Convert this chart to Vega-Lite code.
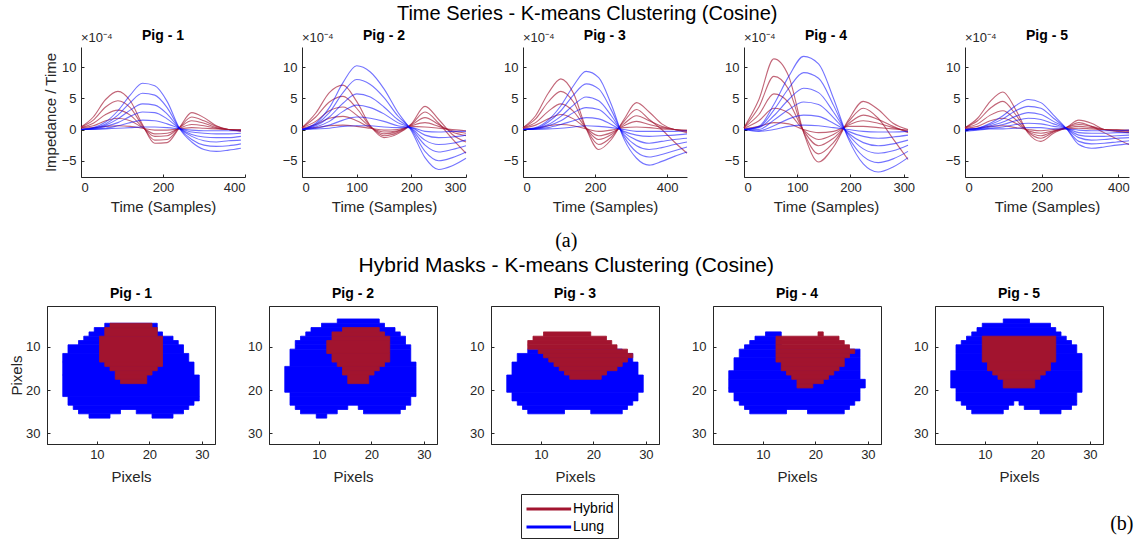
{
"$schema":"https://vega.github.io/schema/vega-lite/v6.json",
"background":"white",
"padding":{"left":9,"top":3,"right":4,"bottom":2},
"config":{
 "font":"Liberation Sans",
 "view":{"stroke":null},
 "axis":{"labelFont":"Liberation Sans","labelFontSize":13,"labelColor":"#262626","titleFont":"Liberation Sans","titleFontSize":15,"titleFontWeight":"normal","titleColor":"#262626","domainColor":"#262626","tickColor":"#262626","grid":false,"tickSize":-3},
 "axisX":{"labelPadding":7,"titlePadding":5},
 "axisY":{"labelPadding":10,"titlePadding":1},
 "title":{"font":"Liberation Sans","fontSize":14,"fontWeight":"bold","color":"#000","offset":5,"anchor":"middle","frame":"group"},
 "legend":{"labelFont":"Liberation Sans","labelFontSize":14,"labelColor":"#000","labelOffset":26,"strokeColor":"#262626","fillColor":"#fff","padding":4,"rowPadding":0,"symbolStrokeWidth":3}
},
"datasets":{
"ts":[
{"p":1,"k":"H1","t":0,"v":0.4},{"p":1,"k":"H1","t":30,"v":2.0},{"p":1,"k":"H1","t":60,"v":4.8},{"p":1,"k":"H1","t":90,"v":6.1},{"p":1,"k":"H1","t":120,"v":4.6},{"p":1,"k":"H1","t":150,"v":0.8},{"p":1,"k":"H1","t":180,"v":-2.2},{"p":1,"k":"H1","t":210,"v":-2.1},{"p":1,"k":"H1","t":240,"v":0.3},{"p":1,"k":"H1","t":270,"v":2.7},{"p":1,"k":"H1","t":300,"v":1.9},{"p":1,"k":"H1","t":330,"v":0.6},{"p":1,"k":"H1","t":360,"v":0.0},{"p":1,"k":"H1","t":390,"v":-0.1},
{"p":1,"k":"H2","t":0,"v":0.4},{"p":1,"k":"H2","t":30,"v":1.5},{"p":1,"k":"H2","t":60,"v":3.6},{"p":1,"k":"H2","t":90,"v":4.6},{"p":1,"k":"H2","t":120,"v":3.5},{"p":1,"k":"H2","t":150,"v":0.6},{"p":1,"k":"H2","t":180,"v":-1.7},{"p":1,"k":"H2","t":210,"v":-1.6},{"p":1,"k":"H2","t":240,"v":0.3},{"p":1,"k":"H2","t":270,"v":2.0},{"p":1,"k":"H2","t":300,"v":1.4},{"p":1,"k":"H2","t":330,"v":0.5},{"p":1,"k":"H2","t":360,"v":0.0},{"p":1,"k":"H2","t":390,"v":-0.3},
{"p":1,"k":"H3","t":0,"v":0.3},{"p":1,"k":"H3","t":30,"v":1.0},{"p":1,"k":"H3","t":60,"v":2.4},{"p":1,"k":"H3","t":90,"v":3.1},{"p":1,"k":"H3","t":120,"v":2.3},{"p":1,"k":"H3","t":150,"v":0.4},{"p":1,"k":"H3","t":180,"v":-1.1},{"p":1,"k":"H3","t":210,"v":-1.0},{"p":1,"k":"H3","t":240,"v":0.3},{"p":1,"k":"H3","t":270,"v":1.4},{"p":1,"k":"H3","t":300,"v":1.0},{"p":1,"k":"H3","t":330,"v":0.3},{"p":1,"k":"H3","t":360,"v":0.0},{"p":1,"k":"H3","t":390,"v":-0.2},
{"p":1,"k":"H4","t":0,"v":0.3},{"p":1,"k":"H4","t":30,"v":0.6},{"p":1,"k":"H4","t":60,"v":1.4},{"p":1,"k":"H4","t":90,"v":1.8},{"p":1,"k":"H4","t":120,"v":1.4},{"p":1,"k":"H4","t":150,"v":0.3},{"p":1,"k":"H4","t":180,"v":-0.7},{"p":1,"k":"H4","t":210,"v":-0.6},{"p":1,"k":"H4","t":240,"v":0.2},{"p":1,"k":"H4","t":270,"v":0.8},{"p":1,"k":"H4","t":300,"v":0.6},{"p":1,"k":"H4","t":330,"v":0.2},{"p":1,"k":"H4","t":360,"v":0.0},{"p":1,"k":"H4","t":390,"v":-0.1},
{"p":1,"k":"H5","t":0,"v":0.2},{"p":1,"k":"H5","t":30,"v":0.3},{"p":1,"k":"H5","t":60,"v":0.5},{"p":1,"k":"H5","t":90,"v":0.6},{"p":1,"k":"H5","t":120,"v":0.5},{"p":1,"k":"H5","t":150,"v":0.2},{"p":1,"k":"H5","t":180,"v":-0.1},{"p":1,"k":"H5","t":210,"v":-0.1},{"p":1,"k":"H5","t":240,"v":0.1},{"p":1,"k":"H5","t":270,"v":0.3},{"p":1,"k":"H5","t":300,"v":0.2},{"p":1,"k":"H5","t":330,"v":0.1},{"p":1,"k":"H5","t":360,"v":0.0},{"p":1,"k":"H5","t":390,"v":0.0},
{"p":1,"k":"L1","t":0,"v":0.0},{"p":1,"k":"L1","t":30,"v":0.3},{"p":1,"k":"L1","t":60,"v":1.2},{"p":1,"k":"L1","t":90,"v":3.0},{"p":1,"k":"L1","t":120,"v":5.5},{"p":1,"k":"L1","t":150,"v":7.4},{"p":1,"k":"L1","t":180,"v":7.0},{"p":1,"k":"L1","t":210,"v":4.5},{"p":1,"k":"L1","t":240,"v":0.2},{"p":1,"k":"L1","t":270,"v":-2.0},{"p":1,"k":"L1","t":300,"v":-3.2},{"p":1,"k":"L1","t":330,"v":-3.5},{"p":1,"k":"L1","t":360,"v":-3.3},{"p":1,"k":"L1","t":390,"v":-3.0},
{"p":1,"k":"L2","t":0,"v":0.0},{"p":1,"k":"L2","t":30,"v":0.2},{"p":1,"k":"L2","t":60,"v":0.9},{"p":1,"k":"L2","t":90,"v":2.3},{"p":1,"k":"L2","t":120,"v":4.3},{"p":1,"k":"L2","t":150,"v":5.8},{"p":1,"k":"L2","t":180,"v":5.5},{"p":1,"k":"L2","t":210,"v":3.5},{"p":1,"k":"L2","t":240,"v":0.2},{"p":1,"k":"L2","t":270,"v":-1.6},{"p":1,"k":"L2","t":300,"v":-2.5},{"p":1,"k":"L2","t":330,"v":-2.7},{"p":1,"k":"L2","t":360,"v":-2.6},{"p":1,"k":"L2","t":390,"v":-2.3},
{"p":1,"k":"L3","t":0,"v":0.0},{"p":1,"k":"L3","t":30,"v":0.2},{"p":1,"k":"L3","t":60,"v":0.7},{"p":1,"k":"L3","t":90,"v":1.7},{"p":1,"k":"L3","t":120,"v":3.1},{"p":1,"k":"L3","t":150,"v":4.1},{"p":1,"k":"L3","t":180,"v":3.9},{"p":1,"k":"L3","t":210,"v":2.5},{"p":1,"k":"L3","t":240,"v":0.2},{"p":1,"k":"L3","t":270,"v":-1.1},{"p":1,"k":"L3","t":300,"v":-1.8},{"p":1,"k":"L3","t":330,"v":-2.0},{"p":1,"k":"L3","t":360,"v":-1.8},{"p":1,"k":"L3","t":390,"v":-1.7},
{"p":1,"k":"L4","t":0,"v":0.0},{"p":1,"k":"L4","t":30,"v":0.1},{"p":1,"k":"L4","t":60,"v":0.5},{"p":1,"k":"L4","t":90,"v":1.1},{"p":1,"k":"L4","t":120,"v":2.1},{"p":1,"k":"L4","t":150,"v":2.8},{"p":1,"k":"L4","t":180,"v":2.7},{"p":1,"k":"L4","t":210,"v":1.7},{"p":1,"k":"L4","t":240,"v":0.2},{"p":1,"k":"L4","t":270,"v":-0.8},{"p":1,"k":"L4","t":300,"v":-1.2},{"p":1,"k":"L4","t":330,"v":-1.3},{"p":1,"k":"L4","t":360,"v":-1.3},{"p":1,"k":"L4","t":390,"v":-1.1},
{"p":1,"k":"L5","t":0,"v":0.0},{"p":1,"k":"L5","t":30,"v":0.1},{"p":1,"k":"L5","t":60,"v":0.2},{"p":1,"k":"L5","t":90,"v":0.6},{"p":1,"k":"L5","t":120,"v":1.1},{"p":1,"k":"L5","t":150,"v":1.5},{"p":1,"k":"L5","t":180,"v":1.4},{"p":1,"k":"L5","t":210,"v":0.9},{"p":1,"k":"L5","t":240,"v":0.2},{"p":1,"k":"L5","t":270,"v":-0.4},{"p":1,"k":"L5","t":300,"v":-0.6},{"p":1,"k":"L5","t":330,"v":-0.7},{"p":1,"k":"L5","t":360,"v":-0.7},{"p":1,"k":"L5","t":390,"v":-0.6},
{"p":1,"k":"L6","t":0,"v":0.0},{"p":1,"k":"L6","t":30,"v":0.0},{"p":1,"k":"L6","t":60,"v":0.1},{"p":1,"k":"L6","t":90,"v":0.2},{"p":1,"k":"L6","t":120,"v":0.3},{"p":1,"k":"L6","t":150,"v":0.4},{"p":1,"k":"L6","t":180,"v":0.4},{"p":1,"k":"L6","t":210,"v":0.3},{"p":1,"k":"L6","t":240,"v":0.1},{"p":1,"k":"L6","t":270,"v":-0.1},{"p":1,"k":"L6","t":300,"v":-0.2},{"p":1,"k":"L6","t":330,"v":-0.2},{"p":1,"k":"L6","t":360,"v":-0.2},{"p":1,"k":"L6","t":390,"v":-0.2},
{"p":2,"k":"H1","t":0,"v":0.3},{"p":2,"k":"H1","t":25,"v":2.6},{"p":2,"k":"H1","t":50,"v":5.9},{"p":2,"k":"H1","t":75,"v":7.1},{"p":2,"k":"H1","t":100,"v":4.5},{"p":2,"k":"H1","t":125,"v":0.6},{"p":2,"k":"H1","t":150,"v":-1.3},{"p":2,"k":"H1","t":175,"v":-0.7},{"p":2,"k":"H1","t":200,"v":0.9},{"p":2,"k":"H1","t":225,"v":3.7},{"p":2,"k":"H1","t":250,"v":1.6},{"p":2,"k":"H1","t":275,"v":-0.8},{"p":2,"k":"H1","t":300,"v":-2.0},
{"p":2,"k":"H2","t":0,"v":0.3},{"p":2,"k":"H2","t":25,"v":2.0},{"p":2,"k":"H2","t":50,"v":4.4},{"p":2,"k":"H2","t":75,"v":5.3},{"p":2,"k":"H2","t":100,"v":3.4},{"p":2,"k":"H2","t":125,"v":0.5},{"p":2,"k":"H2","t":150,"v":-1.0},{"p":2,"k":"H2","t":175,"v":-0.5},{"p":2,"k":"H2","t":200,"v":0.8},{"p":2,"k":"H2","t":225,"v":2.8},{"p":2,"k":"H2","t":250,"v":1.0},{"p":2,"k":"H2","t":275,"v":-1.5},{"p":2,"k":"H2","t":300,"v":-3.8},
{"p":2,"k":"H3","t":0,"v":0.3},{"p":2,"k":"H3","t":25,"v":1.3},{"p":2,"k":"H3","t":50,"v":3.0},{"p":2,"k":"H3","t":75,"v":3.6},{"p":2,"k":"H3","t":100,"v":2.3},{"p":2,"k":"H3","t":125,"v":0.4},{"p":2,"k":"H3","t":150,"v":-0.7},{"p":2,"k":"H3","t":175,"v":-0.3},{"p":2,"k":"H3","t":200,"v":0.7},{"p":2,"k":"H3","t":225,"v":1.9},{"p":2,"k":"H3","t":250,"v":0.8},{"p":2,"k":"H3","t":275,"v":-0.4},{"p":2,"k":"H3","t":300,"v":-1.0},
{"p":2,"k":"H4","t":0,"v":0.2},{"p":2,"k":"H4","t":25,"v":0.8},{"p":2,"k":"H4","t":50,"v":1.8},{"p":2,"k":"H4","t":75,"v":2.1},{"p":2,"k":"H4","t":100,"v":1.4},{"p":2,"k":"H4","t":125,"v":0.3},{"p":2,"k":"H4","t":150,"v":-0.4},{"p":2,"k":"H4","t":175,"v":-0.2},{"p":2,"k":"H4","t":200,"v":0.6},{"p":2,"k":"H4","t":225,"v":1.1},{"p":2,"k":"H4","t":250,"v":0.5},{"p":2,"k":"H4","t":275,"v":-0.2},{"p":2,"k":"H4","t":300,"v":-0.6},
{"p":2,"k":"H5","t":0,"v":0.1},{"p":2,"k":"H5","t":25,"v":0.3},{"p":2,"k":"H5","t":50,"v":0.6},{"p":2,"k":"H5","t":75,"v":0.7},{"p":2,"k":"H5","t":100,"v":0.5},{"p":2,"k":"H5","t":125,"v":0.2},{"p":2,"k":"H5","t":150,"v":-0.1},{"p":2,"k":"H5","t":175,"v":0.0},{"p":2,"k":"H5","t":200,"v":0.5},{"p":2,"k":"H5","t":225,"v":0.4},{"p":2,"k":"H5","t":250,"v":0.2},{"p":2,"k":"H5","t":275,"v":0.0},{"p":2,"k":"H5","t":300,"v":-0.2},
{"p":2,"k":"L1","t":0,"v":0.0},{"p":2,"k":"L1","t":25,"v":1.0},{"p":2,"k":"L1","t":50,"v":3.5},{"p":2,"k":"L1","t":75,"v":7.5},{"p":2,"k":"L1","t":100,"v":10.2},{"p":2,"k":"L1","t":125,"v":9.2},{"p":2,"k":"L1","t":150,"v":6.5},{"p":2,"k":"L1","t":175,"v":2.8},{"p":2,"k":"L1","t":200,"v":-0.2},{"p":2,"k":"L1","t":225,"v":-4.5},{"p":2,"k":"L1","t":250,"v":-6.4},{"p":2,"k":"L1","t":275,"v":-5.8},{"p":2,"k":"L1","t":300,"v":-4.6},
{"p":2,"k":"L2","t":0,"v":0.0},{"p":2,"k":"L2","t":25,"v":0.8},{"p":2,"k":"L2","t":50,"v":2.7},{"p":2,"k":"L2","t":75,"v":5.9},{"p":2,"k":"L2","t":100,"v":8.0},{"p":2,"k":"L2","t":125,"v":7.2},{"p":2,"k":"L2","t":150,"v":5.1},{"p":2,"k":"L2","t":175,"v":2.2},{"p":2,"k":"L2","t":200,"v":0.0},{"p":2,"k":"L2","t":225,"v":-3.5},{"p":2,"k":"L2","t":250,"v":-5.0},{"p":2,"k":"L2","t":275,"v":-4.5},{"p":2,"k":"L2","t":300,"v":-3.6},
{"p":2,"k":"L3","t":0,"v":0.0},{"p":2,"k":"L3","t":25,"v":0.6},{"p":2,"k":"L3","t":50,"v":2.0},{"p":2,"k":"L3","t":75,"v":4.2},{"p":2,"k":"L3","t":100,"v":5.7},{"p":2,"k":"L3","t":125,"v":5.2},{"p":2,"k":"L3","t":150,"v":3.6},{"p":2,"k":"L3","t":175,"v":1.6},{"p":2,"k":"L3","t":200,"v":0.1},{"p":2,"k":"L3","t":225,"v":-2.5},{"p":2,"k":"L3","t":250,"v":-3.6},{"p":2,"k":"L3","t":275,"v":-3.2},{"p":2,"k":"L3","t":300,"v":-2.6},
{"p":2,"k":"L4","t":0,"v":0.0},{"p":2,"k":"L4","t":25,"v":0.4},{"p":2,"k":"L4","t":50,"v":1.3},{"p":2,"k":"L4","t":75,"v":2.9},{"p":2,"k":"L4","t":100,"v":3.9},{"p":2,"k":"L4","t":125,"v":3.5},{"p":2,"k":"L4","t":150,"v":2.5},{"p":2,"k":"L4","t":175,"v":1.1},{"p":2,"k":"L4","t":200,"v":0.2},{"p":2,"k":"L4","t":225,"v":-1.7},{"p":2,"k":"L4","t":250,"v":-2.4},{"p":2,"k":"L4","t":275,"v":-2.2},{"p":2,"k":"L4","t":300,"v":-1.7},
{"p":2,"k":"L5","t":0,"v":0.0},{"p":2,"k":"L5","t":25,"v":0.2},{"p":2,"k":"L5","t":50,"v":0.7},{"p":2,"k":"L5","t":75,"v":1.5},{"p":2,"k":"L5","t":100,"v":2.0},{"p":2,"k":"L5","t":125,"v":1.8},{"p":2,"k":"L5","t":150,"v":1.3},{"p":2,"k":"L5","t":175,"v":0.6},{"p":2,"k":"L5","t":200,"v":0.3},{"p":2,"k":"L5","t":225,"v":-0.9},{"p":2,"k":"L5","t":250,"v":-1.3},{"p":2,"k":"L5","t":275,"v":-1.2},{"p":2,"k":"L5","t":300,"v":-0.9},
{"p":2,"k":"L6","t":0,"v":0.0},{"p":2,"k":"L6","t":25,"v":0.1},{"p":2,"k":"L6","t":50,"v":0.2},{"p":2,"k":"L6","t":75,"v":0.5},{"p":2,"k":"L6","t":100,"v":0.6},{"p":2,"k":"L6","t":125,"v":0.6},{"p":2,"k":"L6","t":150,"v":0.4},{"p":2,"k":"L6","t":175,"v":0.3},{"p":2,"k":"L6","t":200,"v":0.3},{"p":2,"k":"L6","t":225,"v":-0.3},{"p":2,"k":"L6","t":250,"v":-0.4},{"p":2,"k":"L6","t":275,"v":-0.3},{"p":2,"k":"L6","t":300,"v":-0.3},
{"p":3,"k":"H1","t":0,"v":0.3},{"p":3,"k":"H1","t":35,"v":2.2},{"p":3,"k":"H1","t":70,"v":5.8},{"p":3,"k":"H1","t":105,"v":8.1},{"p":3,"k":"H1","t":140,"v":5.8},{"p":3,"k":"H1","t":175,"v":0.2},{"p":3,"k":"H1","t":210,"v":-3.2},{"p":3,"k":"H1","t":245,"v":-1.6},{"p":3,"k":"H1","t":280,"v":1.6},{"p":3,"k":"H1","t":315,"v":4.3},{"p":3,"k":"H1","t":350,"v":2.8},{"p":3,"k":"H1","t":385,"v":0.9},{"p":3,"k":"H1","t":420,"v":0.0},{"p":3,"k":"H1","t":455,"v":-0.2},
{"p":3,"k":"H2","t":0,"v":0.3},{"p":3,"k":"H2","t":35,"v":1.7},{"p":3,"k":"H2","t":70,"v":4.4},{"p":3,"k":"H2","t":105,"v":6.1},{"p":3,"k":"H2","t":140,"v":4.4},{"p":3,"k":"H2","t":175,"v":0.2},{"p":3,"k":"H2","t":210,"v":-2.4},{"p":3,"k":"H2","t":245,"v":-1.2},{"p":3,"k":"H2","t":280,"v":1.3},{"p":3,"k":"H2","t":315,"v":3.2},{"p":3,"k":"H2","t":350,"v":1.6},{"p":3,"k":"H2","t":385,"v":0.0},{"p":3,"k":"H2","t":420,"v":-2.0},{"p":3,"k":"H2","t":455,"v":-3.8},
{"p":3,"k":"H3","t":0,"v":0.3},{"p":3,"k":"H3","t":35,"v":1.1},{"p":3,"k":"H3","t":70,"v":2.9},{"p":3,"k":"H3","t":105,"v":4.1},{"p":3,"k":"H3","t":140,"v":2.9},{"p":3,"k":"H3","t":175,"v":0.2},{"p":3,"k":"H3","t":210,"v":-1.6},{"p":3,"k":"H3","t":245,"v":-0.8},{"p":3,"k":"H3","t":280,"v":0.9},{"p":3,"k":"H3","t":315,"v":2.2},{"p":3,"k":"H3","t":350,"v":1.4},{"p":3,"k":"H3","t":385,"v":0.5},{"p":3,"k":"H3","t":420,"v":0.0},{"p":3,"k":"H3","t":455,"v":-0.5},
{"p":3,"k":"H4","t":0,"v":0.2},{"p":3,"k":"H4","t":35,"v":0.7},{"p":3,"k":"H4","t":70,"v":1.7},{"p":3,"k":"H4","t":105,"v":2.4},{"p":3,"k":"H4","t":140,"v":1.7},{"p":3,"k":"H4","t":175,"v":0.2},{"p":3,"k":"H4","t":210,"v":-1.0},{"p":3,"k":"H4","t":245,"v":-0.5},{"p":3,"k":"H4","t":280,"v":0.6},{"p":3,"k":"H4","t":315,"v":1.3},{"p":3,"k":"H4","t":350,"v":0.8},{"p":3,"k":"H4","t":385,"v":0.3},{"p":3,"k":"H4","t":420,"v":0.0},{"p":3,"k":"H4","t":455,"v":-0.3},
{"p":3,"k":"H5","t":0,"v":0.1},{"p":3,"k":"H5","t":35,"v":0.2},{"p":3,"k":"H5","t":70,"v":0.6},{"p":3,"k":"H5","t":105,"v":0.8},{"p":3,"k":"H5","t":140,"v":0.6},{"p":3,"k":"H5","t":175,"v":0.1},{"p":3,"k":"H5","t":210,"v":-0.3},{"p":3,"k":"H5","t":245,"v":-0.1},{"p":3,"k":"H5","t":280,"v":0.3},{"p":3,"k":"H5","t":315,"v":0.4},{"p":3,"k":"H5","t":350,"v":0.3},{"p":3,"k":"H5","t":385,"v":0.1},{"p":3,"k":"H5","t":420,"v":0.0},{"p":3,"k":"H5","t":455,"v":-0.1},
{"p":3,"k":"L1","t":0,"v":0.0},{"p":3,"k":"L1","t":35,"v":0.3},{"p":3,"k":"L1","t":70,"v":1.5},{"p":3,"k":"L1","t":105,"v":3.8},{"p":3,"k":"L1","t":140,"v":7.0},{"p":3,"k":"L1","t":175,"v":9.3},{"p":3,"k":"L1","t":210,"v":8.3},{"p":3,"k":"L1","t":245,"v":4.0},{"p":3,"k":"L1","t":280,"v":-1.5},{"p":3,"k":"L1","t":315,"v":-4.6},{"p":3,"k":"L1","t":350,"v":-5.7},{"p":3,"k":"L1","t":385,"v":-5.1},{"p":3,"k":"L1","t":420,"v":-4.3},{"p":3,"k":"L1","t":455,"v":-3.6},
{"p":3,"k":"L2","t":0,"v":0.0},{"p":3,"k":"L2","t":35,"v":0.2},{"p":3,"k":"L2","t":70,"v":1.2},{"p":3,"k":"L2","t":105,"v":3.0},{"p":3,"k":"L2","t":140,"v":5.5},{"p":3,"k":"L2","t":175,"v":7.3},{"p":3,"k":"L2","t":210,"v":6.5},{"p":3,"k":"L2","t":245,"v":3.1},{"p":3,"k":"L2","t":280,"v":-1.1},{"p":3,"k":"L2","t":315,"v":-3.6},{"p":3,"k":"L2","t":350,"v":-4.4},{"p":3,"k":"L2","t":385,"v":-4.0},{"p":3,"k":"L2","t":420,"v":-3.4},{"p":3,"k":"L2","t":455,"v":-2.8},
{"p":3,"k":"L3","t":0,"v":0.0},{"p":3,"k":"L3","t":35,"v":0.2},{"p":3,"k":"L3","t":70,"v":0.8},{"p":3,"k":"L3","t":105,"v":2.1},{"p":3,"k":"L3","t":140,"v":3.9},{"p":3,"k":"L3","t":175,"v":5.2},{"p":3,"k":"L3","t":210,"v":4.6},{"p":3,"k":"L3","t":245,"v":2.2},{"p":3,"k":"L3","t":280,"v":-0.8},{"p":3,"k":"L3","t":315,"v":-2.6},{"p":3,"k":"L3","t":350,"v":-3.2},{"p":3,"k":"L3","t":385,"v":-2.9},{"p":3,"k":"L3","t":420,"v":-2.4},{"p":3,"k":"L3","t":455,"v":-2.0},
{"p":3,"k":"L4","t":0,"v":0.0},{"p":3,"k":"L4","t":35,"v":0.1},{"p":3,"k":"L4","t":70,"v":0.6},{"p":3,"k":"L4","t":105,"v":1.4},{"p":3,"k":"L4","t":140,"v":2.7},{"p":3,"k":"L4","t":175,"v":3.5},{"p":3,"k":"L4","t":210,"v":3.2},{"p":3,"k":"L4","t":245,"v":1.5},{"p":3,"k":"L4","t":280,"v":-0.5},{"p":3,"k":"L4","t":315,"v":-1.7},{"p":3,"k":"L4","t":350,"v":-2.2},{"p":3,"k":"L4","t":385,"v":-1.9},{"p":3,"k":"L4","t":420,"v":-1.6},{"p":3,"k":"L4","t":455,"v":-1.4},
{"p":3,"k":"L5","t":0,"v":0.0},{"p":3,"k":"L5","t":35,"v":0.1},{"p":3,"k":"L5","t":70,"v":0.3},{"p":3,"k":"L5","t":105,"v":0.8},{"p":3,"k":"L5","t":140,"v":1.4},{"p":3,"k":"L5","t":175,"v":1.9},{"p":3,"k":"L5","t":210,"v":1.7},{"p":3,"k":"L5","t":245,"v":0.8},{"p":3,"k":"L5","t":280,"v":-0.3},{"p":3,"k":"L5","t":315,"v":-0.9},{"p":3,"k":"L5","t":350,"v":-1.1},{"p":3,"k":"L5","t":385,"v":-1.0},{"p":3,"k":"L5","t":420,"v":-0.9},{"p":3,"k":"L5","t":455,"v":-0.7},
{"p":3,"k":"L6","t":0,"v":0.0},{"p":3,"k":"L6","t":35,"v":0.0},{"p":3,"k":"L6","t":70,"v":0.1},{"p":3,"k":"L6","t":105,"v":0.2},{"p":3,"k":"L6","t":140,"v":0.4},{"p":3,"k":"L6","t":175,"v":0.6},{"p":3,"k":"L6","t":210,"v":0.5},{"p":3,"k":"L6","t":245,"v":0.3},{"p":3,"k":"L6","t":280,"v":0.0},{"p":3,"k":"L6","t":315,"v":-0.3},{"p":3,"k":"L6","t":350,"v":-0.3},{"p":3,"k":"L6","t":385,"v":-0.3},{"p":3,"k":"L6","t":420,"v":-0.3},{"p":3,"k":"L6","t":455,"v":-0.2},
{"p":4,"k":"H1","t":0,"v":0.3},{"p":4,"k":"H1","t":28,"v":4.8},{"p":4,"k":"H1","t":56,"v":11.3},{"p":4,"k":"H1","t":84,"v":8.5},{"p":4,"k":"H1","t":112,"v":-0.5},{"p":4,"k":"H1","t":140,"v":-5.2},{"p":4,"k":"H1","t":168,"v":-2.8},{"p":4,"k":"H1","t":196,"v":1.5},{"p":4,"k":"H1","t":224,"v":4.5},{"p":4,"k":"H1","t":252,"v":3.2},{"p":4,"k":"H1","t":280,"v":1.0},{"p":4,"k":"H1","t":308,"v":0.0},
{"p":4,"k":"H2","t":0,"v":0.3},{"p":4,"k":"H2","t":28,"v":3.6},{"p":4,"k":"H2","t":56,"v":8.5},{"p":4,"k":"H2","t":84,"v":6.4},{"p":4,"k":"H2","t":112,"v":-0.4},{"p":4,"k":"H2","t":140,"v":-3.9},{"p":4,"k":"H2","t":168,"v":-2.1},{"p":4,"k":"H2","t":196,"v":1.2},{"p":4,"k":"H2","t":224,"v":3.4},{"p":4,"k":"H2","t":252,"v":1.8},{"p":4,"k":"H2","t":280,"v":-1.5},{"p":4,"k":"H2","t":308,"v":-4.8},
{"p":4,"k":"H3","t":0,"v":0.3},{"p":4,"k":"H3","t":28,"v":2.4},{"p":4,"k":"H3","t":56,"v":5.7},{"p":4,"k":"H3","t":84,"v":4.3},{"p":4,"k":"H3","t":112,"v":-0.2},{"p":4,"k":"H3","t":140,"v":-2.6},{"p":4,"k":"H3","t":168,"v":-1.4},{"p":4,"k":"H3","t":196,"v":0.9},{"p":4,"k":"H3","t":224,"v":2.3},{"p":4,"k":"H3","t":252,"v":1.6},{"p":4,"k":"H3","t":280,"v":0.5},{"p":4,"k":"H3","t":308,"v":-0.5},
{"p":4,"k":"H4","t":0,"v":0.2},{"p":4,"k":"H4","t":28,"v":1.4},{"p":4,"k":"H4","t":56,"v":3.4},{"p":4,"k":"H4","t":84,"v":2.6},{"p":4,"k":"H4","t":112,"v":-0.1},{"p":4,"k":"H4","t":140,"v":-1.6},{"p":4,"k":"H4","t":168,"v":-0.8},{"p":4,"k":"H4","t":196,"v":0.7},{"p":4,"k":"H4","t":224,"v":1.4},{"p":4,"k":"H4","t":252,"v":1.0},{"p":4,"k":"H4","t":280,"v":0.3},{"p":4,"k":"H4","t":308,"v":-0.3},
{"p":4,"k":"H5","t":0,"v":0.1},{"p":4,"k":"H5","t":28,"v":0.5},{"p":4,"k":"H5","t":56,"v":1.1},{"p":4,"k":"H5","t":84,"v":0.9},{"p":4,"k":"H5","t":112,"v":0.0},{"p":4,"k":"H5","t":140,"v":-0.5},{"p":4,"k":"H5","t":168,"v":-0.3},{"p":4,"k":"H5","t":196,"v":0.5},{"p":4,"k":"H5","t":224,"v":0.5},{"p":4,"k":"H5","t":252,"v":0.3},{"p":4,"k":"H5","t":280,"v":0.1},{"p":4,"k":"H5","t":308,"v":-0.1},
{"p":4,"k":"L1","t":0,"v":0.0},{"p":4,"k":"L1","t":28,"v":0.5},{"p":4,"k":"L1","t":56,"v":4.0},{"p":4,"k":"L1","t":84,"v":8.5},{"p":4,"k":"L1","t":112,"v":11.7},{"p":4,"k":"L1","t":140,"v":10.5},{"p":4,"k":"L1","t":168,"v":5.0},{"p":4,"k":"L1","t":196,"v":-1.5},{"p":4,"k":"L1","t":224,"v":-5.5},{"p":4,"k":"L1","t":252,"v":-6.8},{"p":4,"k":"L1","t":280,"v":-6.0},{"p":4,"k":"L1","t":308,"v":-4.5},
{"p":4,"k":"L2","t":0,"v":0.0},{"p":4,"k":"L2","t":28,"v":0.4},{"p":4,"k":"L2","t":56,"v":3.1},{"p":4,"k":"L2","t":84,"v":6.6},{"p":4,"k":"L2","t":112,"v":9.1},{"p":4,"k":"L2","t":140,"v":8.2},{"p":4,"k":"L2","t":168,"v":3.9},{"p":4,"k":"L2","t":196,"v":-1.2},{"p":4,"k":"L2","t":224,"v":-4.3},{"p":4,"k":"L2","t":252,"v":-5.3},{"p":4,"k":"L2","t":280,"v":-4.7},{"p":4,"k":"L2","t":308,"v":-3.5},
{"p":4,"k":"L3","t":0,"v":0.0},{"p":4,"k":"L3","t":28,"v":0.3},{"p":4,"k":"L3","t":56,"v":2.2},{"p":4,"k":"L3","t":84,"v":4.8},{"p":4,"k":"L3","t":112,"v":6.6},{"p":4,"k":"L3","t":140,"v":5.9},{"p":4,"k":"L3","t":168,"v":2.8},{"p":4,"k":"L3","t":196,"v":-0.8},{"p":4,"k":"L3","t":224,"v":-3.1},{"p":4,"k":"L3","t":252,"v":-3.8},{"p":4,"k":"L3","t":280,"v":-3.4},{"p":4,"k":"L3","t":308,"v":-2.5},
{"p":4,"k":"L4","t":0,"v":0.0},{"p":4,"k":"L4","t":28,"v":0.0},{"p":4,"k":"L4","t":56,"v":1.5},{"p":4,"k":"L4","t":84,"v":3.2},{"p":4,"k":"L4","t":112,"v":4.4},{"p":4,"k":"L4","t":140,"v":4.0},{"p":4,"k":"L4","t":168,"v":1.9},{"p":4,"k":"L4","t":196,"v":-0.6},{"p":4,"k":"L4","t":224,"v":-2.1},{"p":4,"k":"L4","t":252,"v":-2.6},{"p":4,"k":"L4","t":280,"v":-2.3},{"p":4,"k":"L4","t":308,"v":-1.7},
{"p":4,"k":"L5","t":0,"v":0.0},{"p":4,"k":"L5","t":28,"v":-0.2},{"p":4,"k":"L5","t":56,"v":0.6},{"p":4,"k":"L5","t":84,"v":1.7},{"p":4,"k":"L5","t":112,"v":2.3},{"p":4,"k":"L5","t":140,"v":2.1},{"p":4,"k":"L5","t":168,"v":1.0},{"p":4,"k":"L5","t":196,"v":-0.3},{"p":4,"k":"L5","t":224,"v":-1.1},{"p":4,"k":"L5","t":252,"v":-1.4},{"p":4,"k":"L5","t":280,"v":-1.2},{"p":4,"k":"L5","t":308,"v":-0.9},
{"p":4,"k":"L6","t":0,"v":0.0},{"p":4,"k":"L6","t":28,"v":-0.3},{"p":4,"k":"L6","t":56,"v":0.0},{"p":4,"k":"L6","t":84,"v":0.5},{"p":4,"k":"L6","t":112,"v":0.7},{"p":4,"k":"L6","t":140,"v":0.6},{"p":4,"k":"L6","t":168,"v":0.3},{"p":4,"k":"L6","t":196,"v":0.0},{"p":4,"k":"L6","t":224,"v":-0.3},{"p":4,"k":"L6","t":252,"v":-0.4},{"p":4,"k":"L6","t":280,"v":-0.4},{"p":4,"k":"L6","t":308,"v":-0.3},
{"p":5,"k":"H1","t":0,"v":0.3},{"p":5,"k":"H1","t":33,"v":1.8},{"p":5,"k":"H1","t":66,"v":4.5},{"p":5,"k":"H1","t":99,"v":6.0},{"p":5,"k":"H1","t":132,"v":3.2},{"p":5,"k":"H1","t":165,"v":-0.6},{"p":5,"k":"H1","t":198,"v":-1.9},{"p":5,"k":"H1","t":231,"v":-0.6},{"p":5,"k":"H1","t":264,"v":0.3},{"p":5,"k":"H1","t":297,"v":1.5},{"p":5,"k":"H1","t":330,"v":1.0},{"p":5,"k":"H1","t":363,"v":0.0},{"p":5,"k":"H1","t":396,"v":-0.3},{"p":5,"k":"H1","t":428,"v":-0.5},
{"p":5,"k":"H2","t":0,"v":0.3},{"p":5,"k":"H2","t":33,"v":1.4},{"p":5,"k":"H2","t":66,"v":3.4},{"p":5,"k":"H2","t":99,"v":4.5},{"p":5,"k":"H2","t":132,"v":2.4},{"p":5,"k":"H2","t":165,"v":-0.4},{"p":5,"k":"H2","t":198,"v":-1.4},{"p":5,"k":"H2","t":231,"v":-0.4},{"p":5,"k":"H2","t":264,"v":0.3},{"p":5,"k":"H2","t":297,"v":1.1},{"p":5,"k":"H2","t":330,"v":0.5},{"p":5,"k":"H2","t":363,"v":-0.5},{"p":5,"k":"H2","t":396,"v":-1.5},{"p":5,"k":"H2","t":428,"v":-2.4},
{"p":5,"k":"H3","t":0,"v":0.3},{"p":5,"k":"H3","t":33,"v":0.9},{"p":5,"k":"H3","t":66,"v":2.3},{"p":5,"k":"H3","t":99,"v":3.0},{"p":5,"k":"H3","t":132,"v":1.6},{"p":5,"k":"H3","t":165,"v":-0.3},{"p":5,"k":"H3","t":198,"v":-1.0},{"p":5,"k":"H3","t":231,"v":-0.3},{"p":5,"k":"H3","t":264,"v":0.3},{"p":5,"k":"H3","t":297,"v":0.8},{"p":5,"k":"H3","t":330,"v":0.5},{"p":5,"k":"H3","t":363,"v":0.0},{"p":5,"k":"H3","t":396,"v":-0.2},{"p":5,"k":"H3","t":428,"v":-0.3},
{"p":5,"k":"H4","t":0,"v":0.2},{"p":5,"k":"H4","t":33,"v":0.5},{"p":5,"k":"H4","t":66,"v":1.4},{"p":5,"k":"H4","t":99,"v":1.8},{"p":5,"k":"H4","t":132,"v":1.0},{"p":5,"k":"H4","t":165,"v":-0.2},{"p":5,"k":"H4","t":198,"v":-0.6},{"p":5,"k":"H4","t":231,"v":-0.2},{"p":5,"k":"H4","t":264,"v":0.2},{"p":5,"k":"H4","t":297,"v":0.5},{"p":5,"k":"H4","t":330,"v":0.3},{"p":5,"k":"H4","t":363,"v":0.0},{"p":5,"k":"H4","t":396,"v":-0.1},{"p":5,"k":"H4","t":428,"v":-0.2},
{"p":5,"k":"H5","t":0,"v":0.1},{"p":5,"k":"H5","t":33,"v":0.2},{"p":5,"k":"H5","t":66,"v":0.5},{"p":5,"k":"H5","t":99,"v":0.6},{"p":5,"k":"H5","t":132,"v":0.3},{"p":5,"k":"H5","t":165,"v":0.0},{"p":5,"k":"H5","t":198,"v":-0.2},{"p":5,"k":"H5","t":231,"v":0.0},{"p":5,"k":"H5","t":264,"v":0.1},{"p":5,"k":"H5","t":297,"v":0.2},{"p":5,"k":"H5","t":330,"v":0.1},{"p":5,"k":"H5","t":363,"v":0.0},{"p":5,"k":"H5","t":396,"v":0.0},{"p":5,"k":"H5","t":428,"v":-0.1},
{"p":5,"k":"L1","t":0,"v":0.0},{"p":5,"k":"L1","t":33,"v":0.2},{"p":5,"k":"L1","t":66,"v":1.0},{"p":5,"k":"L1","t":99,"v":2.2},{"p":5,"k":"L1","t":132,"v":3.8},{"p":5,"k":"L1","t":165,"v":4.8},{"p":5,"k":"L1","t":198,"v":4.3},{"p":5,"k":"L1","t":231,"v":2.3},{"p":5,"k":"L1","t":264,"v":0.2},{"p":5,"k":"L1","t":297,"v":-2.4},{"p":5,"k":"L1","t":330,"v":-3.0},{"p":5,"k":"L1","t":363,"v":-2.8},{"p":5,"k":"L1","t":396,"v":-2.5},{"p":5,"k":"L1","t":428,"v":-2.3},
{"p":5,"k":"L2","t":0,"v":0.0},{"p":5,"k":"L2","t":33,"v":0.2},{"p":5,"k":"L2","t":66,"v":0.8},{"p":5,"k":"L2","t":99,"v":1.7},{"p":5,"k":"L2","t":132,"v":3.0},{"p":5,"k":"L2","t":165,"v":3.7},{"p":5,"k":"L2","t":198,"v":3.4},{"p":5,"k":"L2","t":231,"v":1.8},{"p":5,"k":"L2","t":264,"v":0.2},{"p":5,"k":"L2","t":297,"v":-1.9},{"p":5,"k":"L2","t":330,"v":-2.3},{"p":5,"k":"L2","t":363,"v":-2.2},{"p":5,"k":"L2","t":396,"v":-2.0},{"p":5,"k":"L2","t":428,"v":-1.8},
{"p":5,"k":"L3","t":0,"v":0.0},{"p":5,"k":"L3","t":33,"v":0.1},{"p":5,"k":"L3","t":66,"v":0.6},{"p":5,"k":"L3","t":99,"v":1.2},{"p":5,"k":"L3","t":132,"v":2.1},{"p":5,"k":"L3","t":165,"v":2.7},{"p":5,"k":"L3","t":198,"v":2.4},{"p":5,"k":"L3","t":231,"v":1.3},{"p":5,"k":"L3","t":264,"v":0.2},{"p":5,"k":"L3","t":297,"v":-1.3},{"p":5,"k":"L3","t":330,"v":-1.7},{"p":5,"k":"L3","t":363,"v":-1.6},{"p":5,"k":"L3","t":396,"v":-1.4},{"p":5,"k":"L3","t":428,"v":-1.3},
{"p":5,"k":"L4","t":0,"v":0.0},{"p":5,"k":"L4","t":33,"v":0.1},{"p":5,"k":"L4","t":66,"v":0.4},{"p":5,"k":"L4","t":99,"v":0.8},{"p":5,"k":"L4","t":132,"v":1.4},{"p":5,"k":"L4","t":165,"v":1.8},{"p":5,"k":"L4","t":198,"v":1.6},{"p":5,"k":"L4","t":231,"v":0.9},{"p":5,"k":"L4","t":264,"v":0.2},{"p":5,"k":"L4","t":297,"v":-0.9},{"p":5,"k":"L4","t":330,"v":-1.1},{"p":5,"k":"L4","t":363,"v":-1.1},{"p":5,"k":"L4","t":396,"v":-1.0},{"p":5,"k":"L4","t":428,"v":-0.9},
{"p":5,"k":"L5","t":0,"v":-0.2},{"p":5,"k":"L5","t":33,"v":0.0},{"p":5,"k":"L5","t":66,"v":0.2},{"p":5,"k":"L5","t":99,"v":0.4},{"p":5,"k":"L5","t":132,"v":0.8},{"p":5,"k":"L5","t":165,"v":1.0},{"p":5,"k":"L5","t":198,"v":0.9},{"p":5,"k":"L5","t":231,"v":0.5},{"p":5,"k":"L5","t":264,"v":0.2},{"p":5,"k":"L5","t":297,"v":-0.5},{"p":5,"k":"L5","t":330,"v":-0.6},{"p":5,"k":"L5","t":363,"v":-0.6},{"p":5,"k":"L5","t":396,"v":-0.5},{"p":5,"k":"L5","t":428,"v":-0.5},
{"p":5,"k":"L6","t":0,"v":-0.3},{"p":5,"k":"L6","t":33,"v":-0.1},{"p":5,"k":"L6","t":66,"v":0.1},{"p":5,"k":"L6","t":99,"v":0.1},{"p":5,"k":"L6","t":132,"v":0.2},{"p":5,"k":"L6","t":165,"v":0.3},{"p":5,"k":"L6","t":198,"v":0.3},{"p":5,"k":"L6","t":231,"v":0.1},{"p":5,"k":"L6","t":264,"v":0.1},{"p":5,"k":"L6","t":297,"v":-0.1},{"p":5,"k":"L6","t":330,"v":-0.2},{"p":5,"k":"L6","t":363,"v":-0.2},{"p":5,"k":"L6","t":396,"v":-0.2},{"p":5,"k":"L6","t":428,"v":-0.1}
],
"mask":[
{"p":1,"c":"Lung","x0":11.5,"x1":21.5,"y0":4.5,"y1":5.5},{"p":1,"c":"Lung","x0":9.5,"x1":21.5,"y0":5.5,"y1":6.5},{"p":1,"c":"Lung","x0":8.5,"x1":22.5,"y0":6.5,"y1":7.5},{"p":1,"c":"Lung","x0":7.5,"x1":24.5,"y0":7.5,"y1":8.5},{"p":1,"c":"Lung","x0":6.5,"x1":25.5,"y0":8.5,"y1":9.5},{"p":1,"c":"Lung","x0":4.5,"x1":26.5,"y0":9.5,"y1":11.5},{"p":1,"c":"Lung","x0":3.5,"x1":27.5,"y0":11.5,"y1":13.5},{"p":1,"c":"Lung","x0":3.5,"x1":28.5,"y0":13.5,"y1":16.5},{"p":1,"c":"Lung","x0":3.5,"x1":29.5,"y0":16.5,"y1":21.5},{"p":1,"c":"Lung","x0":4.5,"x1":29.5,"y0":21.5,"y1":22.5},{"p":1,"c":"Lung","x0":4.5,"x1":28.5,"y0":22.5,"y1":23.5},{"p":1,"c":"Lung","x0":5.5,"x1":27.5,"y0":23.5,"y1":24.5},{"p":1,"c":"Lung","x0":6.5,"x1":14.5,"y0":24.5,"y1":25.5},{"p":1,"c":"Lung","x0":17.5,"x1":26.5,"y0":24.5,"y1":25.5},{"p":1,"c":"Lung","x0":8.5,"x1":12.5,"y0":25.5,"y1":26.5},{"p":1,"c":"Lung","x0":20.5,"x1":24.5,"y0":25.5,"y1":26.5},
{"p":1,"c":"Hybrid","x0":12.5,"x1":20.5,"y0":4.5,"y1":5.5},{"p":1,"c":"Hybrid","x0":11.5,"x1":21.5,"y0":5.5,"y1":7.5},{"p":1,"c":"Hybrid","x0":10.5,"x1":22.5,"y0":7.5,"y1":13.5},{"p":1,"c":"Hybrid","x0":11.5,"x1":22.5,"y0":13.5,"y1":14.5},{"p":1,"c":"Hybrid","x0":12.5,"x1":21.5,"y0":14.5,"y1":15.5},{"p":1,"c":"Hybrid","x0":13.5,"x1":20.5,"y0":15.5,"y1":16.5},{"p":1,"c":"Hybrid","x0":13.5,"x1":19.5,"y0":16.5,"y1":17.5},{"p":1,"c":"Hybrid","x0":14.5,"x1":19.5,"y0":17.5,"y1":18.5},
{"p":2,"c":"Lung","x0":13.5,"x1":21.5,"y0":3.5,"y1":4.5},{"p":2,"c":"Lung","x0":10.5,"x1":22.5,"y0":4.5,"y1":5.5},{"p":2,"c":"Lung","x0":8.5,"x1":24.5,"y0":5.5,"y1":6.5},{"p":2,"c":"Lung","x0":7.5,"x1":25.5,"y0":6.5,"y1":7.5},{"p":2,"c":"Lung","x0":6.5,"x1":26.5,"y0":7.5,"y1":8.5},{"p":2,"c":"Lung","x0":5.5,"x1":26.5,"y0":8.5,"y1":9.5},{"p":2,"c":"Lung","x0":5.5,"x1":27.5,"y0":9.5,"y1":10.5},{"p":2,"c":"Lung","x0":4.5,"x1":27.5,"y0":10.5,"y1":13.5},{"p":2,"c":"Lung","x0":4.5,"x1":28.5,"y0":13.5,"y1":14.5},{"p":2,"c":"Lung","x0":3.5,"x1":28.5,"y0":14.5,"y1":20.5},{"p":2,"c":"Lung","x0":4.5,"x1":28.5,"y0":20.5,"y1":21.5},{"p":2,"c":"Lung","x0":4.5,"x1":27.5,"y0":21.5,"y1":23.5},{"p":2,"c":"Lung","x0":5.5,"x1":15.5,"y0":23.5,"y1":24.5},{"p":2,"c":"Lung","x0":17.5,"x1":26.5,"y0":23.5,"y1":24.5},{"p":2,"c":"Lung","x0":6.5,"x1":13.5,"y0":24.5,"y1":25.5},{"p":2,"c":"Lung","x0":18.5,"x1":25.5,"y0":24.5,"y1":25.5},{"p":2,"c":"Lung","x0":9.5,"x1":11.5,"y0":25.5,"y1":26.5},
{"p":2,"c":"Hybrid","x0":14.5,"x1":21.5,"y0":5.5,"y1":6.5},{"p":2,"c":"Hybrid","x0":12.5,"x1":22.5,"y0":6.5,"y1":7.5},{"p":2,"c":"Hybrid","x0":12.5,"x1":23.5,"y0":7.5,"y1":8.5},{"p":2,"c":"Hybrid","x0":11.5,"x1":23.5,"y0":8.5,"y1":11.5},{"p":2,"c":"Hybrid","x0":12.5,"x1":23.5,"y0":11.5,"y1":13.5},{"p":2,"c":"Hybrid","x0":13.5,"x1":22.5,"y0":13.5,"y1":14.5},{"p":2,"c":"Hybrid","x0":14.5,"x1":21.5,"y0":14.5,"y1":15.5},{"p":2,"c":"Hybrid","x0":14.5,"x1":20.5,"y0":15.5,"y1":16.5},{"p":2,"c":"Hybrid","x0":15.5,"x1":19.5,"y0":16.5,"y1":18.5},
{"p":3,"c":"Lung","x0":7.5,"x1":25.5,"y0":10.5,"y1":11.5},{"p":3,"c":"Lung","x0":5.5,"x1":27.5,"y0":11.5,"y1":13.5},{"p":3,"c":"Lung","x0":4.5,"x1":28.5,"y0":13.5,"y1":16.5},{"p":3,"c":"Lung","x0":3.5,"x1":29.5,"y0":16.5,"y1":20.5},{"p":3,"c":"Lung","x0":4.5,"x1":28.5,"y0":20.5,"y1":22.5},{"p":3,"c":"Lung","x0":5.5,"x1":27.5,"y0":22.5,"y1":23.5},{"p":3,"c":"Lung","x0":6.5,"x1":26.5,"y0":23.5,"y1":24.5},{"p":3,"c":"Lung","x0":7.5,"x1":14.5,"y0":24.5,"y1":25.5},{"p":3,"c":"Lung","x0":19.5,"x1":25.5,"y0":24.5,"y1":25.5},
{"p":3,"c":"Hybrid","x0":10.5,"x1":19.5,"y0":6.5,"y1":7.5},{"p":3,"c":"Hybrid","x0":8.5,"x1":22.5,"y0":7.5,"y1":8.5},{"p":3,"c":"Hybrid","x0":7.5,"x1":23.5,"y0":8.5,"y1":9.5},{"p":3,"c":"Hybrid","x0":7.5,"x1":24.5,"y0":9.5,"y1":10.5},{"p":3,"c":"Hybrid","x0":9.5,"x1":26.5,"y0":10.5,"y1":11.5},{"p":3,"c":"Hybrid","x0":10.5,"x1":27.5,"y0":11.5,"y1":12.5},{"p":3,"c":"Hybrid","x0":11.5,"x1":26.5,"y0":12.5,"y1":13.5},{"p":3,"c":"Hybrid","x0":12.5,"x1":25.5,"y0":13.5,"y1":14.5},{"p":3,"c":"Hybrid","x0":13.5,"x1":24.5,"y0":14.5,"y1":15.5},{"p":3,"c":"Hybrid","x0":14.5,"x1":22.5,"y0":15.5,"y1":16.5},{"p":3,"c":"Hybrid","x0":15.5,"x1":21.5,"y0":16.5,"y1":17.5},
{"p":4,"c":"Lung","x0":10.5,"x1":13.5,"y0":6.5,"y1":7.5},{"p":4,"c":"Lung","x0":8.5,"x1":13.5,"y0":7.5,"y1":8.5},{"p":4,"c":"Lung","x0":7.5,"x1":13.5,"y0":8.5,"y1":9.5},{"p":4,"c":"Lung","x0":6.5,"x1":13.5,"y0":9.5,"y1":10.5},{"p":4,"c":"Lung","x0":5.5,"x1":28.5,"y0":10.5,"y1":12.5},{"p":4,"c":"Lung","x0":4.5,"x1":28.5,"y0":12.5,"y1":15.5},{"p":4,"c":"Lung","x0":3.5,"x1":28.5,"y0":15.5,"y1":17.5},{"p":4,"c":"Lung","x0":3.5,"x1":29.5,"y0":17.5,"y1":19.5},{"p":4,"c":"Lung","x0":3.5,"x1":28.5,"y0":19.5,"y1":20.5},{"p":4,"c":"Lung","x0":4.5,"x1":28.5,"y0":20.5,"y1":22.5},{"p":4,"c":"Lung","x0":5.5,"x1":27.5,"y0":22.5,"y1":23.5},{"p":4,"c":"Lung","x0":6.5,"x1":26.5,"y0":23.5,"y1":24.5},{"p":4,"c":"Lung","x0":7.5,"x1":14.5,"y0":24.5,"y1":25.5},{"p":4,"c":"Lung","x0":18.5,"x1":25.5,"y0":24.5,"y1":25.5},
{"p":4,"c":"Hybrid","x0":20.5,"x1":21.5,"y0":6.5,"y1":7.5},{"p":4,"c":"Hybrid","x0":12.5,"x1":24.5,"y0":7.5,"y1":8.5},{"p":4,"c":"Hybrid","x0":12.5,"x1":25.5,"y0":8.5,"y1":9.5},{"p":4,"c":"Hybrid","x0":12.5,"x1":26.5,"y0":9.5,"y1":10.5},{"p":4,"c":"Hybrid","x0":12.5,"x1":27.5,"y0":10.5,"y1":11.5},{"p":4,"c":"Hybrid","x0":12.5,"x1":26.5,"y0":11.5,"y1":12.5},{"p":4,"c":"Hybrid","x0":12.5,"x1":25.5,"y0":12.5,"y1":13.5},{"p":4,"c":"Hybrid","x0":13.5,"x1":25.5,"y0":13.5,"y1":14.5},{"p":4,"c":"Hybrid","x0":13.5,"x1":24.5,"y0":14.5,"y1":15.5},{"p":4,"c":"Hybrid","x0":14.5,"x1":23.5,"y0":15.5,"y1":16.5},{"p":4,"c":"Hybrid","x0":15.5,"x1":22.5,"y0":16.5,"y1":17.5},{"p":4,"c":"Hybrid","x0":16.5,"x1":21.5,"y0":17.5,"y1":18.5},{"p":4,"c":"Hybrid","x0":16.5,"x1":19.5,"y0":18.5,"y1":19.5},
{"p":5,"c":"Lung","x0":13.5,"x1":18.5,"y0":3.5,"y1":4.5},{"p":5,"c":"Lung","x0":9.5,"x1":22.5,"y0":4.5,"y1":5.5},{"p":5,"c":"Lung","x0":8.5,"x1":23.5,"y0":5.5,"y1":6.5},{"p":5,"c":"Lung","x0":7.5,"x1":24.5,"y0":6.5,"y1":7.5},{"p":5,"c":"Lung","x0":6.5,"x1":25.5,"y0":7.5,"y1":8.5},{"p":5,"c":"Lung","x0":5.5,"x1":26.5,"y0":8.5,"y1":9.5},{"p":5,"c":"Lung","x0":4.5,"x1":27.5,"y0":9.5,"y1":11.5},{"p":5,"c":"Lung","x0":4.5,"x1":28.5,"y0":11.5,"y1":15.5},{"p":5,"c":"Lung","x0":3.5,"x1":28.5,"y0":15.5,"y1":19.5},{"p":5,"c":"Lung","x0":4.5,"x1":28.5,"y0":19.5,"y1":20.5},{"p":5,"c":"Lung","x0":4.5,"x1":27.5,"y0":20.5,"y1":22.5},{"p":5,"c":"Lung","x0":5.5,"x1":15.5,"y0":22.5,"y1":23.5},{"p":5,"c":"Lung","x0":16.5,"x1":27.5,"y0":22.5,"y1":23.5},{"p":5,"c":"Lung","x0":6.5,"x1":14.5,"y0":23.5,"y1":24.5},{"p":5,"c":"Lung","x0":17.5,"x1":26.5,"y0":23.5,"y1":24.5},{"p":5,"c":"Lung","x0":7.5,"x1":13.5,"y0":24.5,"y1":25.5},{"p":5,"c":"Lung","x0":20.5,"x1":24.5,"y0":24.5,"y1":25.5},
{"p":5,"c":"Hybrid","x0":9.5,"x1":23.5,"y0":7.5,"y1":13.5},{"p":5,"c":"Hybrid","x0":10.5,"x1":22.5,"y0":13.5,"y1":15.5},{"p":5,"c":"Hybrid","x0":11.5,"x1":21.5,"y0":15.5,"y1":16.5},{"p":5,"c":"Hybrid","x0":12.5,"x1":20.5,"y0":16.5,"y1":17.5},{"p":5,"c":"Hybrid","x0":13.5,"x1":19.5,"y0":17.5,"y1":19.5}
]
},
"concat":[
{
 "title":{"text":"Time Series - K-means Clustering (Cosine)","anchor":"middle","frame":"bounds","fontSize":20,"fontWeight":"normal","font":"Liberation Sans","color":"#000","offset":5},
 "bounds":"flush","spacing":33,
 "hconcat":[
  {"width":1,"height":130,"data":{"values":[{"a":0}]},"mark":{"type":"point","opacity":0},"encoding":{}},
  {"bounds":"flush","spacing":57,
   "hconcat":[
  {"width":164,"height":130,"data":{"name":"ts"},
   "encoding":{"x":{"field":"t","type":"quantitative","scale":{"domain":[0,400],"nice":false,"zero":false},"axis":{"values":[0,200,400],"title":"Time (Samples)"}},
    "y":{"field":"v","type":"quantitative","scale":{"domain":[-7.6,13.2],"nice":false,"zero":false},"axis":{"values":[-5,0,5,10],"title":"Impedance / Time","labelPadding":8,"titlePadding":3}}},
   "layer":[
    {"transform":[{"filter":"datum.p==1 && datum.k[0]=='H'"}],"mark":{"type":"line","color":"#A2142F","strokeWidth":1.1,"strokeOpacity":0.65,"interpolate":"monotone"},"encoding":{"detail":{"field":"k"}}},
    {"transform":[{"filter":"datum.p==1 && datum.k[0]=='L'"}],"mark":{"type":"line","color":"#0000FF","strokeWidth":1.1,"strokeOpacity":0.55,"interpolate":"monotone"},"encoding":{"detail":{"field":"k"}}},
    {"transform":[{"filter":"datum.p==1 && datum.k=='H1' && datum.t==0"}],"mark":{"type":"text","text":"×10⁻⁴","align":"left","baseline":"bottom","fontSize":13,"color":"#262626"},"encoding":{"x":{"datum":0},"y":{"datum":13.5}}},
    {"transform":[{"filter":"datum.p==1 && datum.k=='H1' && datum.t==0"}],"mark":{"type":"text","text":"Pig - 1","align":"center","baseline":"bottom","fontSize":14,"fontWeight":"bold","color":"#000"},"encoding":{"x":{"datum":200},"y":{"datum":13.9}}}
   ]},
  {"width":164,"height":130,"data":{"name":"ts"},
   "encoding":{"x":{"field":"t","type":"quantitative","scale":{"domain":[0,300],"nice":false,"zero":false},"axis":{"values":[0,100,200,300],"title":"Time (Samples)"}},
    "y":{"field":"v","type":"quantitative","scale":{"domain":[-7.6,13.2],"nice":false,"zero":false},"axis":{"values":[-5,0,5,10],"title":null,"labelPadding":8}}},
   "layer":[
    {"transform":[{"filter":"datum.p==2 && datum.k[0]=='H'"}],"mark":{"type":"line","color":"#A2142F","strokeWidth":1.1,"strokeOpacity":0.65,"interpolate":"monotone"},"encoding":{"detail":{"field":"k"}}},
    {"transform":[{"filter":"datum.p==2 && datum.k[0]=='L'"}],"mark":{"type":"line","color":"#0000FF","strokeWidth":1.1,"strokeOpacity":0.55,"interpolate":"monotone"},"encoding":{"detail":{"field":"k"}}},
    {"transform":[{"filter":"datum.p==2 && datum.k=='H1' && datum.t==0"}],"mark":{"type":"text","text":"×10⁻⁴","align":"left","baseline":"bottom","fontSize":13,"color":"#262626"},"encoding":{"x":{"datum":0},"y":{"datum":13.5}}},
    {"transform":[{"filter":"datum.p==2 && datum.k=='H1' && datum.t==0"}],"mark":{"type":"text","text":"Pig - 2","align":"center","baseline":"bottom","fontSize":14,"fontWeight":"bold","color":"#000"},"encoding":{"x":{"datum":150},"y":{"datum":13.9}}}
   ]},
  {"width":164,"height":130,"data":{"name":"ts"},
   "encoding":{"x":{"field":"t","type":"quantitative","scale":{"domain":[0,455],"nice":false,"zero":false},"axis":{"values":[0,200,400],"title":"Time (Samples)"}},
    "y":{"field":"v","type":"quantitative","scale":{"domain":[-7.6,13.2],"nice":false,"zero":false},"axis":{"values":[-5,0,5,10],"title":null,"labelPadding":8}}},
   "layer":[
    {"transform":[{"filter":"datum.p==3 && datum.k[0]=='H'"}],"mark":{"type":"line","color":"#A2142F","strokeWidth":1.1,"strokeOpacity":0.65,"interpolate":"monotone"},"encoding":{"detail":{"field":"k"}}},
    {"transform":[{"filter":"datum.p==3 && datum.k[0]=='L'"}],"mark":{"type":"line","color":"#0000FF","strokeWidth":1.1,"strokeOpacity":0.55,"interpolate":"monotone"},"encoding":{"detail":{"field":"k"}}},
    {"transform":[{"filter":"datum.p==3 && datum.k=='H1' && datum.t==0"}],"mark":{"type":"text","text":"×10⁻⁴","align":"left","baseline":"bottom","fontSize":13,"color":"#262626"},"encoding":{"x":{"datum":0},"y":{"datum":13.5}}},
    {"transform":[{"filter":"datum.p==3 && datum.k=='H1' && datum.t==0"}],"mark":{"type":"text","text":"Pig - 3","align":"center","baseline":"bottom","fontSize":14,"fontWeight":"bold","color":"#000"},"encoding":{"x":{"datum":227},"y":{"datum":13.9}}}
   ]},
  {"width":164,"height":130,"data":{"name":"ts"},
   "encoding":{"x":{"field":"t","type":"quantitative","scale":{"domain":[0,308],"nice":false,"zero":false},"axis":{"values":[0,100,200,300],"title":"Time (Samples)"}},
    "y":{"field":"v","type":"quantitative","scale":{"domain":[-7.6,13.2],"nice":false,"zero":false},"axis":{"values":[-5,0,5,10],"title":null,"labelPadding":8}}},
   "layer":[
    {"transform":[{"filter":"datum.p==4 && datum.k[0]=='H'"}],"mark":{"type":"line","color":"#A2142F","strokeWidth":1.1,"strokeOpacity":0.65,"interpolate":"monotone"},"encoding":{"detail":{"field":"k"}}},
    {"transform":[{"filter":"datum.p==4 && datum.k[0]=='L'"}],"mark":{"type":"line","color":"#0000FF","strokeWidth":1.1,"strokeOpacity":0.55,"interpolate":"monotone"},"encoding":{"detail":{"field":"k"}}},
    {"transform":[{"filter":"datum.p==4 && datum.k=='H1' && datum.t==0"}],"mark":{"type":"text","text":"×10⁻⁴","align":"left","baseline":"bottom","fontSize":13,"color":"#262626"},"encoding":{"x":{"datum":0},"y":{"datum":13.5}}},
    {"transform":[{"filter":"datum.p==4 && datum.k=='H1' && datum.t==0"}],"mark":{"type":"text","text":"Pig - 4","align":"center","baseline":"bottom","fontSize":14,"fontWeight":"bold","color":"#000"},"encoding":{"x":{"datum":154},"y":{"datum":13.9}}}
   ]},
  {"width":164,"height":130,"data":{"name":"ts"},
   "encoding":{"x":{"field":"t","type":"quantitative","scale":{"domain":[0,428],"nice":false,"zero":false},"axis":{"values":[0,200,400],"title":"Time (Samples)"}},
    "y":{"field":"v","type":"quantitative","scale":{"domain":[-7.6,13.2],"nice":false,"zero":false},"axis":{"values":[-5,0,5,10],"title":null,"labelPadding":8}}},
   "layer":[
    {"transform":[{"filter":"datum.p==5 && datum.k[0]=='H'"}],"mark":{"type":"line","color":"#A2142F","strokeWidth":1.1,"strokeOpacity":0.65,"interpolate":"monotone"},"encoding":{"detail":{"field":"k"}}},
    {"transform":[{"filter":"datum.p==5 && datum.k[0]=='L'"}],"mark":{"type":"line","color":"#0000FF","strokeWidth":1.1,"strokeOpacity":0.55,"interpolate":"monotone"},"encoding":{"detail":{"field":"k"}}},
    {"transform":[{"filter":"datum.p==5 && datum.k=='H1' && datum.t==0"}],"mark":{"type":"text","text":"×10⁻⁴","align":"left","baseline":"bottom","fontSize":13,"color":"#262626"},"encoding":{"x":{"datum":0},"y":{"datum":13.5}}},
    {"transform":[{"filter":"datum.p==5 && datum.k=='H1' && datum.t==0"}],"mark":{"type":"text","text":"Pig - 5","align":"center","baseline":"bottom","fontSize":14,"fontWeight":"bold","color":"#000"},"encoding":{"x":{"datum":214},"y":{"datum":13.9}}}
   ]}
   ]}
 ]
},
{
 "title":{"text":"(b)","orient":"bottom","anchor":"end","frame":"bounds","font":"Liberation Serif","fontSize":20,"fontWeight":"normal","color":"#000","offset":29,"dx":30},
 "vconcat":[
  {
   "title":{"text":"(a)","subtitle":"Hybrid Masks - K-means Clustering (Cosine)","anchor":"middle","frame":"bounds","font":"Liberation Serif","fontSize":20,"fontWeight":"normal","color":"#000","subtitleFont":"Liberation Sans","subtitleFontSize":21,"subtitleColor":"#000","subtitlePadding":4,"offset":11,"dx":10},
   "bounds":"flush","spacing":54,
   "hconcat":[
    {"width":168,"height":138,"title":"Pig - 1","view":{"stroke":"#262626"},"data":{"name":"mask"},"transform":[{"filter":"datum.p==1"}],
     "mark":{"type":"rect","strokeWidth":0.8},
     "encoding":{"x":{"field":"x0","type":"quantitative","scale":{"domain":[0.5,32.5],"nice":false,"zero":false},"axis":{"values":[10,20,30],"title":"Pixels","titlePadding":8}},"x2":{"field":"x1"},
      "y":{"field":"y0","type":"quantitative","scale":{"domain":[0.5,32.5],"nice":false,"zero":false,"reverse":true},"axis":{"values":[10,20,30],"title":"Pixels"}},"y2":{"field":"y1"},
      "color":{"field":"c","type":"nominal","scale":{"domain":["Hybrid","Lung"],"range":["#A2142F","#0000FF"]},"legend":{"title":null,"orient":"none","legendX":474,"legendY":447,"symbolType":"M-1,0H3.7","symbolSize":361}},
      "stroke":{"field":"c","type":"nominal","scale":{"domain":["Hybrid","Lung"],"range":["#A2142F","#0000FF"]},"legend":{"title":null,"orient":"none","legendX":474,"legendY":447,"symbolType":"M-1,0H3.7","symbolSize":361}}}},
    {"width":168,"height":138,"title":"Pig - 2","view":{"stroke":"#262626"},"data":{"name":"mask"},"transform":[{"filter":"datum.p==2"}],
     "mark":{"type":"rect","strokeWidth":0.8},
     "encoding":{"x":{"field":"x0","type":"quantitative","scale":{"domain":[0.5,32.5],"nice":false,"zero":false},"axis":{"values":[10,20,30],"title":"Pixels","titlePadding":8}},"x2":{"field":"x1"},
      "y":{"field":"y0","type":"quantitative","scale":{"domain":[0.5,32.5],"nice":false,"zero":false,"reverse":true},"axis":{"values":[10,20,30],"title":null}},"y2":{"field":"y1"},
      "color":{"field":"c","type":"nominal","scale":{"domain":["Hybrid","Lung"],"range":["#A2142F","#0000FF"]},"legend":{"title":null,"orient":"none","legendX":474,"legendY":447,"symbolType":"M-1,0H3.7","symbolSize":361}},
      "stroke":{"field":"c","type":"nominal","scale":{"domain":["Hybrid","Lung"],"range":["#A2142F","#0000FF"]},"legend":{"title":null,"orient":"none","legendX":474,"legendY":447,"symbolType":"M-1,0H3.7","symbolSize":361}}}},
    {"width":168,"height":138,"title":"Pig - 3","view":{"stroke":"#262626"},"data":{"name":"mask"},"transform":[{"filter":"datum.p==3"}],
     "mark":{"type":"rect","strokeWidth":0.8},
     "encoding":{"x":{"field":"x0","type":"quantitative","scale":{"domain":[0.5,32.5],"nice":false,"zero":false},"axis":{"values":[10,20,30],"title":"Pixels","titlePadding":8}},"x2":{"field":"x1"},
      "y":{"field":"y0","type":"quantitative","scale":{"domain":[0.5,32.5],"nice":false,"zero":false,"reverse":true},"axis":{"values":[10,20,30],"title":null}},"y2":{"field":"y1"},
      "color":{"field":"c","type":"nominal","scale":{"domain":["Hybrid","Lung"],"range":["#A2142F","#0000FF"]},"legend":{"title":null,"orient":"none","legendX":474,"legendY":447,"symbolType":"M-1,0H3.7","symbolSize":361}},
      "stroke":{"field":"c","type":"nominal","scale":{"domain":["Hybrid","Lung"],"range":["#A2142F","#0000FF"]},"legend":{"title":null,"orient":"none","legendX":474,"legendY":447,"symbolType":"M-1,0H3.7","symbolSize":361}}}},
    {"width":168,"height":138,"title":"Pig - 4","view":{"stroke":"#262626"},"data":{"name":"mask"},"transform":[{"filter":"datum.p==4"}],
     "mark":{"type":"rect","strokeWidth":0.8},
     "encoding":{"x":{"field":"x0","type":"quantitative","scale":{"domain":[0.5,32.5],"nice":false,"zero":false},"axis":{"values":[10,20,30],"title":"Pixels","titlePadding":8}},"x2":{"field":"x1"},
      "y":{"field":"y0","type":"quantitative","scale":{"domain":[0.5,32.5],"nice":false,"zero":false,"reverse":true},"axis":{"values":[10,20,30],"title":null}},"y2":{"field":"y1"},
      "color":{"field":"c","type":"nominal","scale":{"domain":["Hybrid","Lung"],"range":["#A2142F","#0000FF"]},"legend":{"title":null,"orient":"none","legendX":474,"legendY":447,"symbolType":"M-1,0H3.7","symbolSize":361}},
      "stroke":{"field":"c","type":"nominal","scale":{"domain":["Hybrid","Lung"],"range":["#A2142F","#0000FF"]},"legend":{"title":null,"orient":"none","legendX":474,"legendY":447,"symbolType":"M-1,0H3.7","symbolSize":361}}}},
    {"width":168,"height":138,"title":"Pig - 5","view":{"stroke":"#262626"},"data":{"name":"mask"},"transform":[{"filter":"datum.p==5"}],
     "mark":{"type":"rect","strokeWidth":0.8},
     "encoding":{"x":{"field":"x0","type":"quantitative","scale":{"domain":[0.5,32.5],"nice":false,"zero":false},"axis":{"values":[10,20,30],"title":"Pixels","titlePadding":8}},"x2":{"field":"x1"},
      "y":{"field":"y0","type":"quantitative","scale":{"domain":[0.5,32.5],"nice":false,"zero":false,"reverse":true},"axis":{"values":[10,20,30],"title":null}},"y2":{"field":"y1"},
      "color":{"field":"c","type":"nominal","scale":{"domain":["Hybrid","Lung"],"range":["#A2142F","#0000FF"]},"legend":{"title":null,"orient":"none","legendX":474,"legendY":447,"symbolType":"M-1,0H3.7","symbolSize":361}},
      "stroke":{"field":"c","type":"nominal","scale":{"domain":["Hybrid","Lung"],"range":["#A2142F","#0000FF"]},"legend":{"title":null,"orient":"none","legendX":474,"legendY":447,"symbolType":"M-1,0H3.7","symbolSize":361}}}}
   ]
  }
 ]
}
],
"columns":1,"align":"none","spacing":16
}
